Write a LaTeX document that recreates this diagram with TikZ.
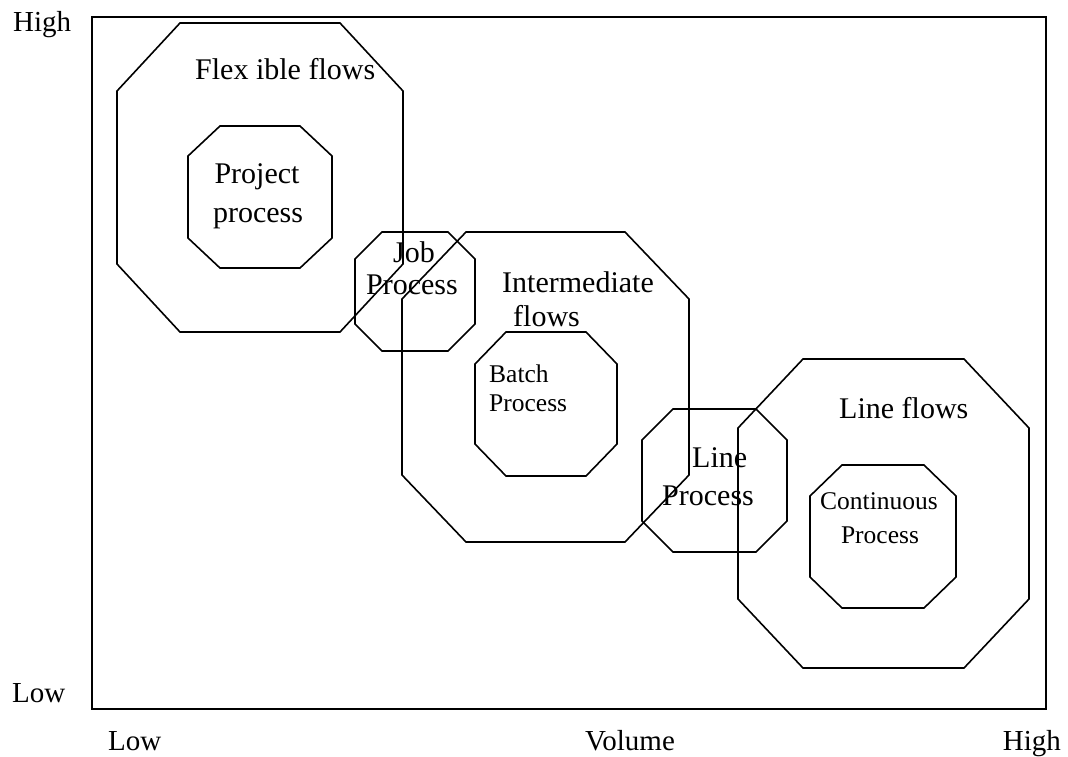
\documentclass[tikz,border=0pt]{standalone}
\usepackage{fontspec}
\setmainfont{Liberation Serif}
\newcommand\octpath[6]{\draw[octline] (#1+#5,#2) -- (#3-#5,#2) -- (#3,#2+#6) -- (#3,#4-#6) -- (#3-#5,#4) -- (#1+#5,#4) -- (#1,#4-#6) -- (#1,#2+#6) -- cycle;}
\tikzset{
  octline/.style={line width=1.6pt, line join=miter},
  axislabel/.style={inner sep=0pt, font=\fontsize{29}{34}\selectfont},
  big/.style={inner sep=0pt, font=\fontsize{30}{35}\selectfont},
  small/.style={inner sep=0pt, font=\fontsize{25.5}{29}\selectfont},
}
\begin{document}
\begin{tikzpicture}[x=1pt,y=-1pt]
\useasboundingbox (0,0) rectangle (1068,756);
\draw[octline] (92,17) rectangle (1046,709);
% octagons
\octpath{117}{23}{403}{332}{63}{68}
\octpath{188}{126}{332}{268}{32}{30}
\octpath{355}{232}{475}{351}{27}{27}
\octpath{402}{232}{689}{542}{64}{67}
\octpath{475}{332}{617}{476}{31}{32}
\octpath{642}{409}{787}{552}{31}{31}
\octpath{738}{359}{1029}{668}{65}{69}
\octpath{810}{465}{956}{608}{32}{31}
% axis labels
\node[axislabel, anchor=base west] (yhigh) at (13,31) {High};
\node[axislabel, anchor=base west] (ylow) at (12,702) {Low};
\node[axislabel, anchor=base west] (xlow) at (108,750) {Low};
\node[axislabel, anchor=base west] (xvol) at (585,750) {Volume};
\node[axislabel, anchor=base east] (xhigh) at (1061,750) {High};
% region labels
\node[big, anchor=base west] (flex) at (195,79) {Flex ible flows};
\node[big, anchor=base] (proj1) at (257,183) {Project};
\node[big, anchor=base] (proj2) at (258,222) {process};
\node[big, anchor=base] (job1) at (414,262) {Job};
\node[big, anchor=base] (job2) at (412,294) {Process};
\node[big, anchor=base west] (inter1) at (502,292) {Intermediate};
\node[big, anchor=base west] (inter2) at (513,326) {flows};
\node[small, anchor=base west] (batch1) at (489,382) {Batch};
\node[small, anchor=base west] (batch2) at (489,411) {Process};
\node[big, anchor=base west] (lineflows) at (839,418) {Line flows};
\node[big, anchor=base west] (line1) at (692,467) {Line};
\node[big, anchor=base west] (line2) at (662,505) {Process};
\node[small, anchor=base] (cont1) at (879,509) {Continuous};
\node[small, anchor=base] (cont2) at (880,543) {Process};
\end{tikzpicture}
\end{document}
